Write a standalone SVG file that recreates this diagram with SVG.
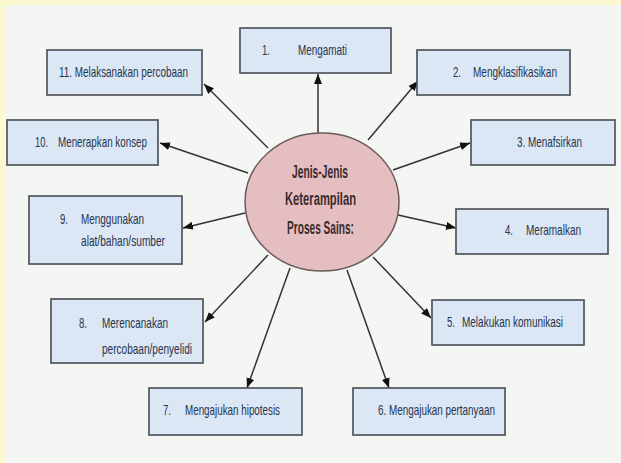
<svg xmlns="http://www.w3.org/2000/svg" width="621" height="463" viewBox="0 0 621 463">
<style>
.box{fill:#dbe7f4;stroke:#50555c;stroke-width:1.7}
.t{font-family:"Liberation Sans Narrow","Liberation Sans",Arial,sans-serif;font-size:15px;fill:#27344f}
.c{font-family:"Liberation Sans Narrow","Liberation Sans",Arial,sans-serif;font-size:18px;font-weight:bold;fill:#3a2b2c}
.ln{stroke:#333;stroke-width:1.5;fill:none;marker-end:url(#ah)}
</style>
<defs>
<marker id="ah" markerUnits="userSpaceOnUse" markerWidth="10" markerHeight="8" refX="10" refY="4" orient="auto">
<path d="M0,0 L10,4 L0,8 Z" fill="#111"/>
</marker>
</defs>
<rect x="0" y="0" width="621" height="463" fill="#fcf8cf"/>
<rect x="5" y="5" width="616" height="458" fill="#f3f6f2"/>
<g id="connectors">
<line class="ln" x1="318" y1="133" x2="318" y2="74"/>
<line class="ln" x1="268" y1="148" x2="204" y2="84"/>
<line class="ln" x1="248" y1="173" x2="160" y2="143"/>
<line class="ln" x1="368" y1="140" x2="418" y2="81"/>
<line class="ln" x1="393" y1="170" x2="470" y2="143"/>
<line class="ln" x1="245" y1="213" x2="183" y2="228"/>
<line class="ln" x1="398" y1="215" x2="456" y2="228"/>
<line class="ln" x1="268" y1="255" x2="205" y2="322"/>
<line class="ln" x1="290" y1="268" x2="247" y2="388"/>
<line class="ln" x1="347" y1="270" x2="389" y2="388"/>
<line class="ln" x1="373" y1="257" x2="431" y2="318"/>
</g>
<g id="center">
<ellipse cx="322" cy="202" rx="77" ry="69" fill="#e5bec2" stroke="#6b5a5c" stroke-width="1.5"/>
<text class="c" x="292" y="178" textLength="56" lengthAdjust="spacingAndGlyphs">Jenis-Jenis</text>
<text class="c" x="285" y="205" textLength="71" lengthAdjust="spacingAndGlyphs">Keterampilan</text>
<text class="c" x="287" y="234" textLength="67" lengthAdjust="spacingAndGlyphs">Proses Sains:</text>
</g>
<g id="n1">
<rect class="box" x="240" y="28" width="151" height="45"/>
<text class="t" x="262" y="55" textLength="8" lengthAdjust="spacingAndGlyphs">1.</text>
<text class="t" x="298" y="55" textLength="49" lengthAdjust="spacingAndGlyphs">Mengamati</text>
</g>
<g id="n2">
<rect class="box" x="417" y="50" width="153" height="45"/>
<text class="t" x="453" y="77" textLength="8" lengthAdjust="spacingAndGlyphs">2.</text>
<text class="t" x="473" y="77" textLength="84" lengthAdjust="spacingAndGlyphs">Mengklasifikasikan</text>
</g>
<g id="n3">
<rect class="box" x="471" y="120" width="144" height="45"/>
<text class="t" x="517" y="147" textLength="65" lengthAdjust="spacingAndGlyphs">3. Menafsirkan</text>
</g>
<g id="n4">
<rect class="box" x="456" y="209" width="152" height="45"/>
<text class="t" x="505" y="235" textLength="8" lengthAdjust="spacingAndGlyphs">4.</text>
<text class="t" x="526" y="235" textLength="55" lengthAdjust="spacingAndGlyphs">Meramalkan</text>
</g>
<g id="n5">
<rect class="box" x="432" y="300" width="152" height="45"/>
<text class="t" x="447" y="327" textLength="8" lengthAdjust="spacingAndGlyphs">5.</text>
<text class="t" x="462" y="327" textLength="101" lengthAdjust="spacingAndGlyphs">Melakukan komunikasi</text>
</g>
<g id="n6">
<rect class="box" x="353" y="388" width="152" height="47"/>
<text class="t" x="378" y="415" textLength="117" lengthAdjust="spacingAndGlyphs">6. Mengajukan pertanyaan</text>
</g>
<g id="n7">
<rect class="box" x="149" y="388" width="153" height="47"/>
<text class="t" x="163" y="415" textLength="8" lengthAdjust="spacingAndGlyphs">7.</text>
<text class="t" x="185" y="415" textLength="95" lengthAdjust="spacingAndGlyphs">Mengajukan hipotesis</text>
</g>
<g id="n8">
<rect class="box" x="51" y="299" width="152" height="64"/>
<text class="t" x="79" y="328" textLength="8" lengthAdjust="spacingAndGlyphs">8.</text>
<text class="t" x="102" y="328" textLength="66" lengthAdjust="spacingAndGlyphs">Merencanakan</text>
<text class="t" x="102" y="354" textLength="90" lengthAdjust="spacingAndGlyphs">percobaan/penyelidi</text>
</g>
<g id="n9">
<rect class="box" x="29" y="196" width="153" height="68"/>
<text class="t" x="60" y="224" textLength="8" lengthAdjust="spacingAndGlyphs">9.</text>
<text class="t" x="81" y="224" textLength="63" lengthAdjust="spacingAndGlyphs">Menggunakan</text>
<text class="t" x="81" y="246" textLength="84" lengthAdjust="spacingAndGlyphs">alat/bahan/sumber</text>
</g>
<g id="n10">
<rect class="box" x="7" y="120" width="151" height="45"/>
<text class="t" x="35" y="147" textLength="13" lengthAdjust="spacingAndGlyphs">10.</text>
<text class="t" x="58" y="147" textLength="89" lengthAdjust="spacingAndGlyphs">Menerapkan konsep</text>
</g>
<g id="n11">
<rect class="box" x="47" y="50" width="155" height="45"/>
<text class="t" x="59" y="77" textLength="129" lengthAdjust="spacingAndGlyphs">11. Melaksanakan percobaan</text>
</g>
</svg>
